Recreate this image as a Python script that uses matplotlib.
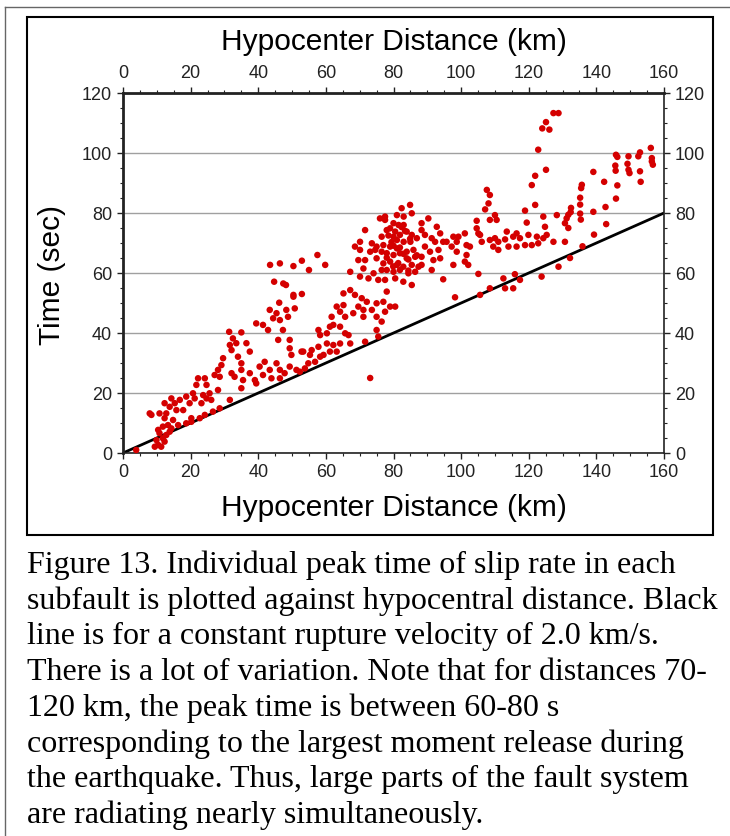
import matplotlib
matplotlib.use('Agg')
import matplotlib.pyplot as plt
from matplotlib.lines import Line2D
from matplotlib.patches import Rectangle
import numpy as np

# hypocentral distance (km), peak time (s)
dist = [
    3.9, 7.9, 8.4, 10.8, 12.8, 12.3, 13.8, 15.8, 17.8, 14.3, 15.3, 16.8, 19.7, 23.2, 26.1, 24.7, 21.2, 18.7,
    20.7, 23.7, 25.6, 28.1, 21.7, 24.7, 24.2, 22.2, 31.6, 28.6, 26.6, 24.2, 22.7, 20.2,
    12.3, 14.8, 13.3, 11.8, 14.3, 16.3, 10.4, 10.8, 12.8, 11.8, 9.9, 10.4, 9.4, 13.8, 12.3, 11.3, 18.7, 20.2,
    33.0, 35.5, 39.0, 41.4, 43.9, 46.4, 39.4, 35.0,
    28.1, 27.1, 28.6, 32.1, 35.0, 37.5, 40.4, 41.9, 43.4, 45.4, 46.4, 47.8, 49.3, 51.3, 52.3,
    37.5, 32.1, 29.6, 34.0, 35.0, 29.1, 49.3, 49.8, 52.8,
    31.4, 35.0, 32.5, 33.5, 31.6, 36.5, 45.9, 49.3,
    39.4, 41.4, 42.9, 47.3, 46.2, 43.4, 45.4, 44.4, 48.3, 50.8, 48.8, 46.4,
    # 30-90 km
    84.9, 82.4, 85.4, 81.0, 83.0, 76.0, 77.5,
    80.0, 81.5, 83.0, 79.0, 78.0, 80.5, 81.9, 83.9, 85.4, 86.9, 71.6, 76.5, 80.0, 81.0, 83.0, 85.0,
    70.1, 73.6, 75.0, 77.0, 79.0, 81.0, 68.6, 70.1, 73.1, 74.6, 76.5, 78.0, 80.0, 81.9, 83.9, 85.9,
    86.4, 83.9, 71.6, 69.6, 75.0, 77.0, 79.0, 81.0, 82.9, 85.4, 87.4,
    71.1, 74.1, 76.5, 78.0, 80.0, 81.9, 84.4, 86.4, 67.2, 70.1, 72.6, 75.5, 77.5, 80.5, 82.9, 85.4,
    77.5, 80.0, 81.4, 82.4, 84.9, 78.0, 79.4, 82.9, 84.4, 79.9, 81.9, 84.4, 78.5, 83.4, 86.9,
    43.5, 46.4, 50.4, 52.9, 57.5, 59.8, 55.0,
    44.7, 47.4, 48.2, 50.4, 52.9, 50.4,
    57.8, 58.3, 61.2, 60.3, 62.2, 64.2, 65.7, 66.7, 61.7, 63.2, 65.2, 64.2, 65.7,
    65.2, 67.2, 68.6, 70.6, 72.1, 69.6, 71.1, 73.6, 75.0, 77.0, 78.0, 68.1, 71.1, 75.0, 77.5, 79.0, 80.5,
    76.5, 75.0, 75.5, 71.6,
    53.3, 55.8, 57.8, 60.3, 58.3, 61.2, 54.8, 56.8, 59.3, 62.2, 64.2, 67.2, 63.2, 55.3, 53.8, 73.1,
    # 88-132 km
    120.9, 107.6, 108.5, 108.1, 107.1, 121.9, 118.9, 110.0, 108.5, 110.5, 104.6, 124.3, 128.3, 131.2,
    119.4, 130.7, 124.8, 116.4, 113.5, 104.6, 105.1, 101.1, 99.2, 92.8, 93.8, 90.3, 88.3, 88.3,
    89.3, 91.3, 92.3, 94.7, 95.7, 97.7, 98.7, 101.6, 102.6, 105.6, 106.1, 108.5, 110.0, 111.0, 113.0,
    115.4, 117.4, 119.9, 122.4, 124.3, 125.3, 127.3, 130.7, 109.5, 111.0, 114.0, 116.4, 118.9, 120.9, 122.8,
    89.3, 90.8, 88.3, 91.8, 93.3, 97.2, 98.7, 101.6, 101.1, 102.1, 97.7, 93.8, 91.3, 88.3,
    94.7, 98.2, 105.1, 105.6, 108.5, 113.0, 112.5, 115.4, 115.9, 117.4, 123.8, 128.8,
    # 120-160 km
    127.3, 128.8, 125.1, 124.0, 126.1, 122.8, 121.9, 125.1,
    156.1, 156.4, 156.7, 156.4, 152.9, 152.9, 153.1, 152.4, 149.5, 149.2, 149.5, 149.8, 145.8, 146.2,
    145.6, 145.7, 146.2, 145.8, 139.1, 142.3, 142.7, 142.9, 139.3, 135.7, 135.5, 135.2, 135.2, 135.2,
    135.4, 139.1, 132.5, 132.4, 131.7, 131.7, 132.2, 135.9,
]
ptime = [
    1.0, 13.2, 12.7, 13.2, 13.2, 16.6, 15.4, 14.3, 14.3, 18.2, 16.6, 17.7, 16.6, 16.6, 17.7, 18.2, 18.2, 18.8,
    19.9, 19.3, 19.9, 21.0, 22.7, 22.7, 24.9, 24.9, 17.7, 14.9, 13.8, 12.7, 11.6, 11.6,
    11.6, 11.0, 9.3, 8.8, 8.2, 9.3, 7.7, 6.6, 6.0, 4.9, 4.3, 2.7, 2.1, 7.1, 3.8, 2.1, 9.9, 10.4,
    25.4, 24.3, 24.3, 26.0, 24.9, 24.9, 23.2, 21.6,
    27.7, 26.0, 25.4, 26.6, 27.7, 26.6, 28.8, 30.4, 27.7, 29.9, 27.7, 26.6, 28.8, 27.7, 27.1,
    33.8, 34.3, 31.6, 32.1, 29.9, 29.3, 34.9, 32.7, 33.8,
    40.4, 40.2, 38.2, 36.6, 36.0, 36.6, 37.7, 37.7,
    43.2, 42.7, 41.0, 41.0, 50.1, 47.7, 46.6, 44.9, 47.7, 48.2, 45.4, 44.3,
    # 30-90 km
    82.7, 81.6, 79.9, 79.3, 78.8, 78.2, 77.7,
    76.6, 76.0, 76.0, 74.9, 74.3, 73.8, 72.7, 73.8, 72.7, 71.6, 74.3, 72.1, 72.1, 71.0, 70.4, 70.4,
    70.4, 69.9, 68.8, 69.3, 68.8, 68.2, 68.8, 67.7, 67.1, 67.7, 67.1, 66.6, 66.0, 66.6, 67.1, 67.7,
    65.4, 64.9, 64.3, 64.3, 64.9, 63.2, 63.8, 62.7, 62.1, 62.7, 62.1,
    61.5, 59.9, 61.0, 61.0, 60.4, 61.0, 59.9, 60.4, 60.4, 58.8, 58.2, 57.7, 57.7, 58.2, 57.1, 56.0,
    78.8, 69.1, 63.3, 75.3, 71.4, 65.1, 70.3, 66.4, 64.5, 62.2, 68.5, 60.8, 72.5, 74.0, 65.9,
    62.7, 63.2, 62.3, 64.1, 66.0, 62.7, 61.0,
    57.1, 56.5, 56.0, 52.7, 53.0, 52.1,
    41.0, 39.3, 42.1, 39.9, 42.7, 42.1, 39.9, 39.3, 45.4, 48.8, 49.3, 47.1, 45.4,
    53.2, 54.3, 52.7, 51.6, 50.4, 48.8, 47.7, 47.7, 49.9, 50.4, 53.8, 46.6, 45.4, 45.4, 47.1, 48.8, 48.8,
    43.8, 41.0, 38.8, 37.1,
    33.8, 34.3, 35.4, 36.5, 32.1, 33.8, 29.9, 30.4, 32.7, 36.0, 36.5, 36.5, 33.8, 32.7, 28.2, 25.0,
    # 88-132 km
    89.3, 87.7, 86.0, 83.2, 81.2, 82.7, 80.8, 79.3, 77.7, 77.7, 77.4, 78.8, 79.3, 78.2,
    76.8, 76.6, 75.4, 73.2, 73.8, 74.9, 73.2, 73.2, 72.1, 75.4, 73.2, 78.2, 74.3, 76.6,
    72.7, 71.6, 70.4, 70.4, 70.4, 72.1, 70.4, 69.3, 68.8, 72.7, 70.4, 71.0, 71.6, 70.4, 71.2,
    72.1, 71.6, 72.7, 72.1, 71.6, 72.7, 70.4, 70.4, 68.8, 67.7, 68.8, 68.8, 69.3, 69.3, 69.9,
    68.8, 67.1, 65.4, 64.3, 67.7, 68.8, 67.1, 66.0, 63.8, 62.7, 62.7, 64.9, 61.0, 62.7,
    57.9, 51.9, 59.7, 52.7, 54.9, 54.9, 58.2, 54.9, 59.6, 57.7, 58.8, 62.1,
    # 120-160 km
    113.3, 113.3, 110.3, 108.2, 107.8, 101.1, 92.4, 94.4,
    101.7, 98.3, 96.1, 97.2, 100.2, 93.9, 90.4, 98.9, 98.9, 96.4, 94.4, 93.3, 99.4, 98.7,
    95.8, 94.1, 89.2, 84.8, 93.7, 90.4, 82.0, 76.3, 72.8, 89.4, 88.3, 85.1, 82.8, 79.8,
    77.8, 80.4, 81.7, 80.3, 79.4, 75.0, 65.0, 68.9,
]

# constant rupture velocity 2.0 km/s
vr = 2.0
line_x = np.array([0, 160])
line_t = line_x / vr

xticks = [0, 20, 40, 60, 80, 100, 120, 140, 160]
yticks = [0, 20, 40, 60, 80, 100, 120]

caption = [
    "Figure 13. Individual peak time of slip rate in each",
    "subfault is plotted against hypocentral distance. Black",
    "line is for a constant rupture velocity of 2.0 km/s.",
    "There is a lot of variation. Note that for distances 70-",
    "120 km, the peak time is between 60-80 s",
    "corresponding to the largest moment release during",
    "the earthquake. Thus, large parts of the fault system",
    "are radiating nearly simultaneously.",
]

plt.rcParams['font.family'] = ['Liberation Sans', 'DejaVu Sans']

W, H = 730, 836
fig = plt.figure(figsize=(W / 100, H / 100), dpi=100)
ax = fig.add_axes([123 / W, 1 - 453 / H, (664 - 123) / W, (453 - 93) / H])

ax.set_xlim(0, 160)
ax.set_ylim(0, 120)
ax.set_xticks(xticks)
ax.set_yticks(yticks)
ax.set_xticks(np.arange(0, 161, 5), minor=True)
ax.set_yticks(np.arange(0, 121, 5), minor=True)
ax.tick_params(which='both', direction='out', top=True, right=True,
               labeltop=True, labelright=True, labelsize=13, colors='#222222')
ax.tick_params(which='major', length=4, width=1, pad=4)
ax.tick_params(which='minor', length=2.5, width=0.8)

for s in ['left', 'top']:
    ax.spines[s].set_linewidth(2.0)
for s in ['right', 'bottom']:
    ax.spines[s].set_linewidth(1.2)
for s in ax.spines:
    ax.spines[s].set_color('#222222')

ax.yaxis.grid(True, color='#a0a0a0', lw=1.0)
ax.set_axisbelow(True)

ax.plot(line_x, line_t, color='black', lw=2.0, zorder=2)
ax.scatter(dist, ptime, s=22, color='#d40000', edgecolors='none', zorder=3, clip_on=False)

fig.text(394 / W, 1 - 42 / H, 'Hypocenter Distance (km)', ha='center', va='center', fontsize=21.5)
fig.text(394 / W, 1 - 508 / H, 'Hypocenter Distance (km)', ha='center', va='center', fontsize=21.5)
fig.text(52 / W, 1 - 275 / H, 'Time (sec)', ha='center', va='center', rotation=90, fontsize=21.5)

# frames
fig.add_artist(Rectangle((27 / W, 1 - 535 / H), (713 - 27) / W, (535 - 17) / H,
                         transform=fig.transFigure, fill=False, ec='black', lw=1.5))
fig.add_artist(Line2D([5 / W, 5 / W], [0, 1 - 7 / H], transform=fig.transFigure, color='#666666', lw=1))
fig.add_artist(Line2D([5 / W, 1], [1 - 7 / H, 1 - 7 / H], transform=fig.transFigure, color='#666666', lw=1))

for i, txt in enumerate(caption):
    fig.text(27 / W, 1 - (565 + 35.8 * i) / H, txt, ha='left', va='center',
             fontsize=23, family=['Liberation Serif', 'DejaVu Serif'])

fig.savefig('out.png', dpi=100)
